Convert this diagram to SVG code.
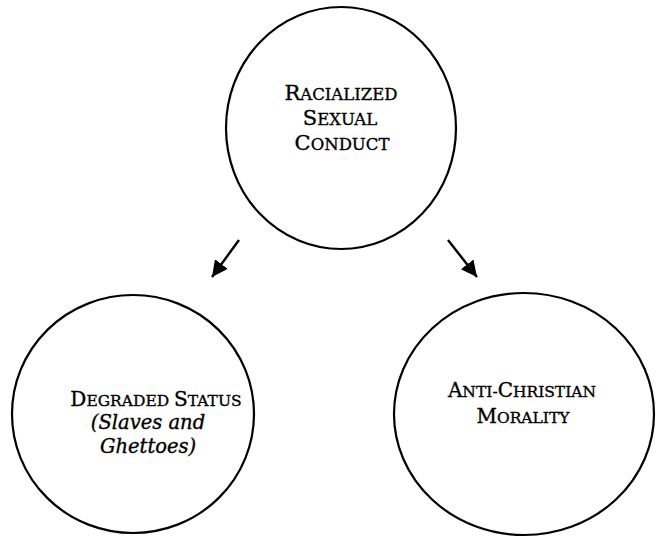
<svg xmlns="http://www.w3.org/2000/svg" width="656" height="537" viewBox="0 0 656 537">
<style>
.node{fill:none;stroke:#000;stroke-width:2.2}
.t{font-family:"DejaVu Serif","Liberation Serif",serif;fill:#000;stroke:#000;stroke-width:0.35;text-anchor:middle}
.big{font-size:20px}
.sm{font-size:15.5px}
.it{font-style:italic;font-size:19.5px}
.conn{stroke:#000;stroke-width:2.4;fill:none}
</style>
<defs>
<marker id="ah" markerUnits="userSpaceOnUse" markerWidth="18" markerHeight="18" refX="16" refY="8" orient="auto">
<path d="M0,0 L16,8 L0,16 Z" fill="#000"/>
</marker>
</defs>
<rect width="656" height="537" fill="#fff"/>
<g id="connectors">
<line class="conn" x1="239" y1="240" x2="212" y2="277" marker-end="url(#ah)"/>
<line class="conn" x1="448" y1="240" x2="477" y2="277" marker-end="url(#ah)"/>
</g>
<g id="racialized">
<ellipse class="node" cx="341" cy="128" rx="115" ry="121"/>
<text class="t" x="341" y="100"><tspan style="font-size:21px">R</tspan><tspan style="font-size:16.5px">ACIALIZED</tspan></text>
<text class="t" x="340" y="125"><tspan style="font-size:21px">S</tspan><tspan style="font-size:16.5px">EXUAL</tspan></text>
<text class="t" x="342" y="150"><tspan style="font-size:21px">C</tspan><tspan style="font-size:16.5px">ONDUCT</tspan></text>
</g>
<g id="degraded">
<ellipse class="node" cx="133" cy="414" rx="121" ry="119"/>
<text class="t" x="156" y="406"><tspan class="big">D</tspan><tspan class="sm">EGRADED </tspan><tspan class="big">S</tspan><tspan class="sm">TATUS</tspan></text>
<text class="t it" x="148" y="429">(Slaves and</text>
<text class="t it" x="148" y="453">Ghettoes)</text>
</g>
<g id="antichristian">
<ellipse class="node" cx="524" cy="414" rx="130" ry="121"/>
<text class="t" x="522" y="397"><tspan class="big">A</tspan><tspan class="sm">NTI-</tspan><tspan class="big">C</tspan><tspan class="sm">HRISTIAN</tspan></text>
<text class="t" x="523" y="423"><tspan class="big">M</tspan><tspan class="sm">ORALITY</tspan></text>
</g>
</svg>
